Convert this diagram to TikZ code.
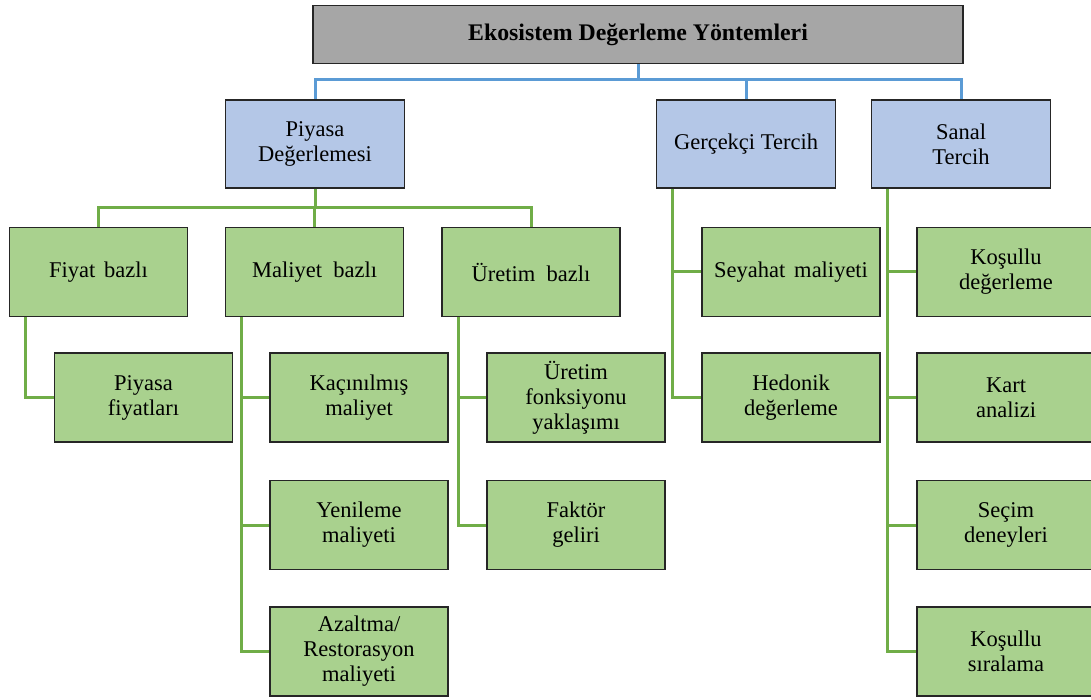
\documentclass[tikz,border=0pt]{standalone}
\usepackage{fontspec}
\setmainfont{Liberation Serif}
\usetikzlibrary{calc,backgrounds}
\definecolor{gfill}{HTML}{A9D18E}
\definecolor{bfill}{HTML}{B4C7E7}
\definecolor{tfill}{HTML}{A6A6A6}
\definecolor{gline}{HTML}{70AD47}
\definecolor{bline}{HTML}{5B9BD5}
\begin{document}
\begin{tikzpicture}[x=1pt,y=-1pt,
  box/.style={draw=black!85, line width=1.6pt, inner sep=0pt, align=center,
    font=\fontsize{22.5}{25}\selectfont},
  gbox/.style={box, fill=gfill, minimum width=178pt, minimum height=89pt},
  bbox/.style={box, fill=bfill, minimum width=179pt, minimum height=88pt},
  tbox/.style={box, fill=tfill, minimum width=650pt, minimum height=58pt,
    font=\fontsize{23.8}{26}\selectfont\bfseries},
  gl/.style={draw=gline, line width=3pt},
  bl/.style={draw=bline, line width=3pt}]
\useasboundingbox (0,0) rectangle (1091,700);
\clip (0,0) rectangle (1091,700);

% top
\node[tbox] (top) at (638,34.5) {Ekosistem Değerleme Yöntemleri};

% level 2
\node[bbox] (piy) at (315,144) {Piyasa\\Değerlemesi};
\node[bbox] (ger) at (746,144) {Gerçekçi Tercih};
\node[bbox] (san) at (961,144) {Sanal\\Tercih};

% level 3 under Piyasa
\node[gbox] (fiy) at (98.5,272) {Fiyat\hspace{0.4em}bazlı};
\node[gbox] (mal) at (314.5,272) {Maliyet\hspace{0.5em}bazlı};
\node[gbox] (ure) at (531,272) {Üretim\hspace{0.5em}bazlı};

% leaves
\node[gbox] (pf) at (143.5,397.5) {Piyasa\\fiyatları};
\node[gbox] (kac) at (359,397.5) {Kaçınılmış\\maliyet};
\node[gbox] (yen) at (359,525) {Yenileme\\maliyeti};
\node[gbox] (aza) at (359,651.5) {Azaltma/\\Restorasyon\\maliyeti};
\node[gbox] (urf) at (576,397.5) {Üretim\\fonksiyonu\\yaklaşımı};
\node[gbox] (fak) at (576,525) {Faktör\\geliri};
\node[gbox] (sey) at (791,272) {Seyahat\hspace{0.4em}maliyeti};
\node[gbox] (hed) at (791,397.5) {Hedonik\\değerleme};
\node[gbox] (kos) at (1006,272) {Koşullu\\değerleme};
\node[gbox] (kart) at (1006,397.5) {Kart\\analizi};
\node[gbox] (sec) at (1006,525) {Seçim\\deneyleri};
\node[gbox] (ksi) at (1006,651.5) {Koşullu\\sıralama};

\begin{pgfonlayer}{background}
  % blue bus
  \coordinate (b1) at (638,80);
  \draw[bl] (top.south) -- (b1);
  \draw[bl] (b1) -| (piy.north);
  \draw[bl] (b1) -| (ger.north);
  \draw[bl] (b1) -| (san.north);
  % green bus under Piyasa
  \coordinate (g1) at (315,208);
  \draw[gl] (piy.south) -- (g1);
  \draw[gl] (g1) -| (fiy.north);
  \draw[gl] (g1) -| (mal.north);
  \draw[gl] (g1) -| (ure.north);
  % side branches
  \coordinate (f0) at ($(fiy.south west)+(17,0)$);
  \draw[gl] (f0) |- (pf.west);
  \coordinate (m0) at ($(mal.south west)+(17,0)$);
  \draw[gl] (m0) |- (kac.west);
  \draw[gl] (m0) |- (yen.west);
  \draw[gl] (m0) |- (aza.west);
  \coordinate (u0) at ($(ure.south west)+(17,0)$);
  \draw[gl] (u0) |- (urf.west);
  \draw[gl] (u0) |- (fak.west);
  \coordinate (r0) at ($(ger.south west)+(17,0)$);
  \draw[gl] (r0) |- (sey.west);
  \draw[gl] (r0) |- (hed.west);
  \coordinate (s0) at ($(san.south west)+(17,0)$);
  \draw[gl] (s0) |- (kos.west);
  \draw[gl] (s0) |- (kart.west);
  \draw[gl] (s0) |- (sec.west);
  \draw[gl] (s0) |- (ksi.west);
\end{pgfonlayer}
\end{tikzpicture}
\end{document}
